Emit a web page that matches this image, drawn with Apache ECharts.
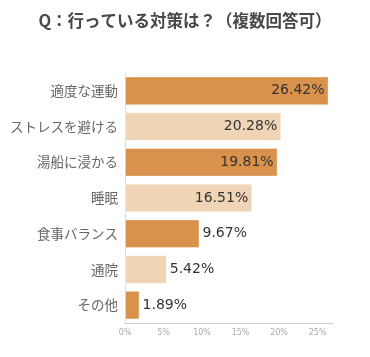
<!DOCTYPE html>
<html><head><meta charset="utf-8">
<script src="https://cdn.jsdelivr.net/npm/echarts@6/dist/echarts.min.js"></script>
<style>html,body{margin:0;padding:0;background:#fff}#c{width:370px;height:357px}</style>
</head><body><div id="c"></div>
<script>
const categories = ['適度な運動','ストレスを避ける','湯船に浸かる','睡眠','食事バランス','通院','その他'];
const values = [26.42, 20.28, 19.81, 16.51, 9.67, 5.42, 1.89];
const insideLabel = [true, true, true, true, false, false, false];
const titleText = 'Q：行っている対策は？（複数回答可）';
const dark = '#D9924B', light = '#EFD4B6';

const chart = echarts.init(document.getElementById('c'));
chart.setOption({
  animation: false,
  title: { text: titleText, left: 'center', top: 7,
    textStyle: { fontSize: 16.5, fontWeight: 'bold', color: '#484848', fontFamily: 'Noto Sans CJK JP' } },
  grid: { left: 125, right: 37, top: 73, bottom: 34 },
  xAxis: { type: 'value', min: 0, max: 27, interval: 5,
    axisLine: { show: true, lineStyle: { color: '#ccc' } },
    axisTick: { show: false }, splitLine: { show: false },
    axisLabel: { formatter: '{value}%', fontSize: 8, color: '#aaa', showMaxLabel: false, margin: 6, fontFamily: 'DejaVu Sans' } },
  yAxis: { type: 'category', inverse: true, data: categories,
    axisLine: { show: true, lineStyle: { color: '#ddd' } }, axisTick: { show: false },
    axisLabel: { fontSize: 13.5, color: '#666', margin: 7, fontFamily: 'Noto Sans CJK JP' } },
  series: [{
    type: 'bar', barCategoryGap: '20%',
    data: values.map((v, i) => ({
      value: v,
      itemStyle: { color: i % 2 === 0 ? dark : light, borderColor: 'rgba(255,255,255,0.35)', borderWidth: 1 },
      label: { show: true, position: insideLabel[i] ? 'insideRight' : 'right',
        distance: insideLabel[i] ? 4 : 3,
        formatter: v.toFixed(2) + '%', fontSize: 14, color: '#333', fontFamily: 'DejaVu Sans' }
    }))
  }]
});
</script></body></html>
